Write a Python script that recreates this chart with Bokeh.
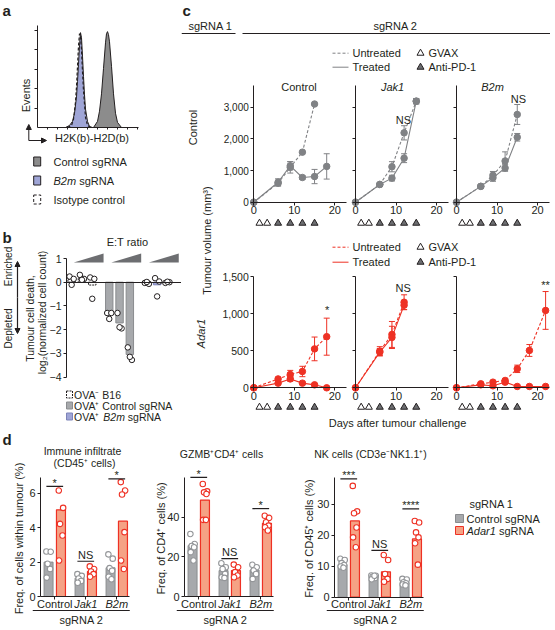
import math
from bokeh.plotting import figure
from bokeh.models import (Range1d, LinearAxis, FixedTicker, Label, Arrow, NormalHead,
                          TeeHead, Whisker, ColumnDataSource)
from bokeh.layouts import row, column
from bokeh.embed import file_html
from bokeh.resources import INLINE

# ======================= DATA =======================
# a: H2K(b)-H2D(b) flow histograms (fluorescence position, normalized events)
hist_ctrl_x = [56, 60, 62, 64, 66, 68, 69, 70, 71, 72, 74, 76, 78, 80, 84]
hist_ctrl_y = [0, 0.06, 0.16, 0.33, 0.58, 0.83, 0.92, 0.94, 0.91, 0.84, 0.60, 0.33, 0.14, 0.05, 0]
hist_b2m_x = [28, 32, 35, 37, 39, 40, 41, 42, 43, 44, 45, 46, 47, 48, 50, 52, 55]
hist_b2m_y = [0, 0.02, 0.06, 0.14, 0.30, 0.45, 0.62, 0.80, 0.93, 0.88, 0.70, 0.50, 0.32, 0.18, 0.06, 0.01, 0]
hist_iso_x = [30, 34, 36, 38, 39, 40, 41, 42, 43, 44, 45, 46, 48, 50, 53]
hist_iso_y = [0, 0.02, 0.08, 0.25, 0.40, 0.60, 0.80, 0.92, 0.90, 0.76, 0.55, 0.36, 0.10, 0.02, 0]
a_legend = ["Control sgRNA", "B2m sgRNA", "Isotype control"]

# b: tumour cell death, log2(normalized cell count), 3 E:T ratios per group
b_groups = ["OVA⁻ B16", "OVA⁺ Control sgRNA", "OVA⁺ B2m sgRNA"]
b_et_ratios = ["low", "mid", "high"]
b_mean_ova_neg = [0.12, 0.18, -0.12]
b_mean_ctrl = [-1.38, -1.72, -3.05]
b_mean_b2m = [-0.03, -0.11, -0.01]
b_pts_ova_neg = [[0.24, 0.14, -0.11], [0.31, 0.14, 0.10], [0.20, 0.14, -0.70]]
b_pts_ctrl = [[-1.30, -1.30, -1.55], [-1.30, -1.95, -1.90], [-2.75, -3.28, -3.15]]
b_pts_b2m = [[-0.03, -0.07, 0.01], [0.17, 0.03, -0.60], [-0.03, 0.00, 0.02]]
b_yticks = [-4, -3, -2, -1, 0, 1]

# c: tumour volume (mm3) vs days after tumour challenge
c_targets = ["Control", "Jak1", "B2m"]
treat_gvax_days = [1.4, 3.3]
treat_pd1_days = [6, 9, 12, 15]
c_xticks = [0, 10, 20]
c_yticks_top = [0, 1000, 2000, 3000]
c_yticks_bottom = [0, 500, 1000, 1500]
# sgRNA 1 = Control
c1_ctrl_untr_days = [0, 6, 9, 12, 15]
c1_ctrl_untr_vol = [0, 600, 1100, 1580, 3100]
c1_ctrl_untr_err = [0, 90, 180, 0, 0]
c1_ctrl_trt_days = [0, 6, 9, 12, 15, 18]
c1_ctrl_trt_vol = [0, 630, 1150, 780, 810, 1130]
c1_ctrl_trt_err = [0, 110, 130, 60, 225, 400]
c1_jak1_days = [0, 6, 9, 12, 15]
c1_jak1_untr_vol = [0, 560, 1120, 2190, 3190]
c1_jak1_untr_err = [0, 30, 160, 225, 85]
c1_jak1_trt_vol = [0, 560, 760, 1390, 3190]
c1_jak1_trt_err = [0, 30, 90, 140, 85]
c1_b2m_days = [0, 6, 9, 12, 15]
c1_b2m_untr_vol = [0, 500, 850, 1300, 2770]
c1_b2m_untr_err = [0, 40, 120, 290, 315]
c1_b2m_trt_vol = [0, 500, 770, 1080, 2050]
c1_b2m_trt_err = [0, 40, 110, 105, 120]
# sgRNA 1 = Adar1
c2_ctrl_days = [0, 6, 9, 12, 15, 18]
c2_ctrl_untr_vol = [0, 120, 180, 220, 525, 690]
c2_ctrl_untr_err = [0, 20, 55, 70, 160, 250]
c2_ctrl_trt_vol = [0, 63, 120, 63, 40, 0]
c2_ctrl_trt_err = [0, 15, 30, 15, 10, 0]
c2_jak1_days = [0, 6, 9, 12]
c2_jak1_untr_vol = [0, 495, 720, 1155]
c2_jak1_untr_err = [0, 60, 175, 100]
c2_jak1_trt_vol = [0, 480, 680, 1115]
c2_jak1_trt_err = [0, 50, 150, 60]
c2_b2m_days = [0, 6, 9, 12, 15, 18, 22]
c2_b2m_untr_vol = [0, 54, 76, 99, 256, 504, 1044]
c2_b2m_untr_err = [0, 10, 15, 20, 50, 80, 255]
c2_b2m_trt_vol = [0, 40, 27, 76, 18, 18, 18]
c2_b2m_trt_err = [0, 8, 8, 15, 5, 5, 5]

# d: tumour infiltrate frequencies
d_targets = ["Control", "Jak1", "B2m"]
d_sgrna1 = ["Control sgRNA", "Adar1 sgRNA"]
immune_ctrl_mean = [2.0, 1.07, 1.67]
immune_adar_mean = [5.04, 1.45, 4.38]
immune_ctrl_pts = [[2.62, 2.6, 1.9, 1.6, 1.1], [1.3, 1.2, 1.05, 0.9, 0.8], [2.45, 2.2, 1.65, 1.5, 1.15, 1.0]]
immune_adar_pts = [[6.16, 5.15, 4.22, 3.55, 2.09], [1.75, 1.6, 1.45, 1.3, 1.15], [6.65, 6.16, 5.93, 3.74, 2.09, 1.6]]
immune_sig = ["*", "NS", "*"]
gzmb_ctrl_mean = [25.7, 13.1, 13.4]
gzmb_adar_mean = [48.7, 13.1, 37.0]
gzmb_ctrl_pts = [[31.6, 26.5, 25.5, 24.9, 22.4, 18.2], [16.8, 14.8, 13.9, 11.4, 9.7, 9.4], [16.0, 14.8, 13.1, 11.4, 8.9]]
gzmb_adar_pts = [[56.8, 53.1, 52.6, 51.8, 38.7, 38.7], [16.1, 14.8, 12.3, 10.6, 9.7], [40.8, 39.7, 37.5, 35.8, 35.0, 33.3]]
gzmb_sig = ["*", "NS", "*"]
nk_ctrl_mean = [10.5, 6.6, 4.8]
nk_adar_mean = [24.6, 8.2, 18.8]
nk_ctrl_pts = [[12.4, 12.0, 11.0, 10.4, 9.9, 9.5], [7.0, 6.9, 6.6, 6.2, 5.8, 6.9], [5.9, 5.7, 4.8, 4.5, 4.1, 3.8]]
nk_adar_pts = [[35.9, 27.7, 27.1, 22.5, 19.3, 16.1], [13.6, 12.0, 7.5, 5.9, 5.0], [24.6, 24.1, 20.9, 19.3, 17.4, 10.5]]
nk_sig = ["***", "NS", "****"]

# ======================= STYLE / HELPERS =======================
S = 1.0
OX = OY = 0
FONT = "Liberation Sans"
INK = "#231f20"
GRAY = "#808285"
RED = "#ee3124"
BAR_GRAY = "#a7a9ac"
BAR_GRAY_LINE = "#8a8c8f"
BAR_RED = "#f5a285"
PURPLE = "#9fa5d6"
HIST_GRAY = "#8c8c8c"

AW = {' ': 278, '(': 333, ')': 333, '+': 584, '-': 333, ',': 278, '.': 278, ':': 278, '%': 889,
      '⁺': 400, '⁻': 400, '₂': 350, '³': 333,
      'A': 667, 'B': 667, 'C': 722, 'D': 722, 'E': 667, 'G': 778, 'H': 722, 'I': 278, 'J': 500,
      'K': 667, 'M': 833, 'N': 722, 'O': 778, 'P': 667, 'R': 722, 'S': 667, 'T': 611, 'V': 667,
      'X': 667, 'Z': 611, 'a': 556, 'b': 556, 'c': 500, 'd': 556, 'e': 556, 'f': 278, 'g': 556,
      'h': 556, 'i': 222, 'j': 222, 'k': 500, 'l': 222, 'm': 833, 'n': 556, 'o': 556, 'p': 556,
      'q': 556, 'r': 333, 's': 500, 't': 278, 'u': 556, 'v': 500, 'w': 722, 'x': 500, 'y': 500, 'z': 500}


def gp(v, o):
    return int(round((v - o) * S))


def fs(px):
    return "%.2fpx" % (px * S)


def tw(s, size):
    return sum(AW.get(ch, 556) for ch in s) / 1000.0 * size


class Panel:
    """A figure whose frame fills its box; geometry given in reference-pixel units."""

    def __init__(self, rx0, ry0, rx1, ry1, ax=None, ay=None, kx=1.0, ky=1.0):
        self.w = gp(rx1, OX) - gp(rx0, OX)
        self.h = gp(ry1, OY) - gp(ry0, OY)
        self.ax = rx0 if ax is None else ax
        self.ay = ry1 if ay is None else ay
        self.kx, self.ky = kx, ky
        rxe = rx0 + self.w / S
        rye = ry0 + self.h / S
        p = figure(width=self.w, height=self.h,
                   x_range=Range1d(self.X(rx0), self.X(rxe)),
                   y_range=Range1d(self.Y(rye), self.Y(ry0)),
                   toolbar_location=None, output_backend="svg",
                   x_axis_location=None, y_axis_location=None,
                   min_border=0, min_border_left=0, min_border_right=0,
                   min_border_top=0, min_border_bottom=0,
                   outline_line_color=None, background_fill_color="white",
                   border_fill_color="white")
        p.grid.visible = False
        self.p = p

    def X(self, rx):
        return (rx - self.ax) / self.kx

    def Y(self, ry):
        return (self.ay - ry) / self.ky


def label(P, rx, ry, s, size=11, align="center", base="middle", angle=0.0, style="normal", color=INK):
    P.p.add_layout(Label(x=P.X(rx), y=P.Y(ry), text=s, text_font=FONT, text_font_size=fs(size),
                         text_align=align, text_baseline=base, angle=angle,
                         text_font_style=style, text_color=color))


def dlabel(P, x, y, s, size=11, align="center", base="middle", style="normal", color=INK):
    P.p.add_layout(Label(x=x, y=y, text=s, text_font=FONT, text_font_size=fs(size),
                         text_align=align, text_baseline=base,
                         text_font_style=style, text_color=color))


def rich(P, rx, ry, segs, size=11):
    x = rx
    for s, st in segs:
        lead = len(s) - len(s.lstrip(" "))
        body = s.strip(" ")
        if body:
            label(P, x + tw(" " * lead, size), ry, body, size, align="left", style=st)
        x += tw(s, size)


def hline(P, rx0, rx1, ry, color=INK, width=1.0, dash="solid"):
    P.p.line([P.X(rx0), P.X(rx1)], [P.Y(ry), P.Y(ry)], line_color=color, line_width=width, line_dash=dash)


def add_axis(P, side, loc, ticks, labels=None, bounds=None, size=11, tick=3, standoff=2, color=INK):
    ticks = list(ticks)
    a = LinearAxis(fixed_location=loc, ticker=FixedTicker(ticks=ticks, minor_ticks=[]),
                   axis_line_color=color, axis_line_width=1,
                   major_tick_line_color=color, major_tick_out=tick, major_tick_in=0,
                   minor_tick_out=0, minor_tick_in=0,
                   major_label_standoff=standoff, major_label_text_font=FONT,
                   major_label_text_font_size=fs(size), major_label_text_color=INK)
    if bounds is not None:
        a.bounds = bounds
    if labels is None:
        labels = [""] * len(ticks)
    a.major_label_overrides = {t: l for t, l in zip(ticks, labels)}
    P.p.add_layout(a, side)
    return a


def panel_letter(P, rx, ry, s):
    label(P, rx, ry, s, size=15, align="left", base="top", style="bold")


# ======================= PANEL a =======================
A = Panel(0, 0, 181, 227, ax=37, ay=127, kx=1.0, ky=102.0)
pa = A.p
pa.patch(hist_ctrl_x, hist_ctrl_y, fill_color=HIST_GRAY, line_color=INK, line_width=1)
pa.patch(hist_b2m_x, hist_b2m_y, fill_color=PURPLE, line_color=INK, line_width=1)
pa.line(hist_iso_x, hist_iso_y, line_color=INK, line_width=1.2, line_dash="3 2")
add_axis(A, "left", 0, [0.19, 0.38, 0.57, 0.76, 0.95], bounds=(0, 1.0), tick=3)
add_axis(A, "below", 0, list(range(10, 101, 10)), bounds=(0, 101), tick=2)
panel_letter(A, 2, 1, "a")
label(A, 25, 95, "Events", size=11, angle=math.pi / 2)
pa.add_layout(Arrow(x_start=A.X(28.3), y_start=A.Y(140), x_end=A.X(28.3), y_end=A.Y(124),
                    end=NormalHead(size=5, fill_color=INK, line_color=INK), line_color=INK, line_width=1))
pa.add_layout(Arrow(x_start=A.X(28.3), y_start=A.Y(140), x_end=A.X(46), y_end=A.Y(140),
                    end=NormalHead(size=5, fill_color=INK, line_color=INK), line_color=INK, line_width=1))
label(A, 91.5, 137, "H2K(b)-H2D(b)", size=11)
leg_y = [161, 180, 199]
leg_fill = [HIST_GRAY, PURPLE, "white"]
leg_dash = ["solid", "solid", "3 2"]
for yy, fc, dsh in zip(leg_y, leg_fill, leg_dash):
    pa.rect(x=[A.X(36.7)], y=[A.Y(yy)], width=7 * S, height=9 * S, width_units="screen",
            height_units="screen", fill_color=fc, line_color=INK, line_width=1, line_dash=dsh)
label(A, 53, leg_y[0], a_legend[0], align="left")
rich(A, 53, leg_y[1], [("B2m", "italic"), (" sgRNA", "normal")])
label(A, 53, leg_y[2], a_legend[2], align="left")

# ======================= PANEL b =======================
B_STEP = 3.65
B = Panel(0, 227, 181, 429, ax=66, ay=281.7, kx=10.3, ky=23.7)
pb = B.p
b_means = [b_mean_ova_neg, b_mean_ctrl, b_mean_b2m]
b_pts = [b_pts_ova_neg, b_pts_ctrl, b_pts_b2m]
b_fill = [None, BAR_GRAY, PURPLE]
b_line = [INK, BAR_GRAY_LINE, "#7d83b8"]
b_dash = ["2 1", "solid", "solid"]
for gi in range(len(b_groups)):
    xs = [gi * B_STEP + ri + 0.5 for ri in range(len(b_et_ratios))]
    pb.vbar(x=xs, top=b_means[gi], bottom=0, width=0.72, fill_color=b_fill[gi],
            line_color=b_line[gi], line_width=1, line_dash=b_dash[gi])
    wx0 = gi * B_STEP + 0.7
    wx1 = gi * B_STEP + 3.6
    pb.patch([wx0, wx1, wx1], [B.Y(262), B.Y(262), B.Y(253)], fill_color="#6d6e71", line_color=None)
jit_b = [-0.2, 0.2, 0.0]
for gi in range(len(b_groups)):
    px, py = [], []
    for ri in range(len(b_et_ratios)):
        for k, v in enumerate(b_pts[gi][ri]):
            px.append(gi * B_STEP + ri + 0.5 + jit_b[k % 3])
            py.append(v)
    pb.scatter(px, py, marker="circle", size=5.5 * S, fill_color="white", line_color=INK, line_width=1)
add_axis(B, "below", 0, [], bounds=(0, B.X(181)), tick=0)
add_axis(B, "left", 0, b_yticks, labels=[str(t).replace("-", "−") for t in b_yticks],
         bounds=(-4, 1), size=10.5, tick=3, standoff=2)
panel_letter(B, 2, 228, "b")
label(B, 127, 241, "E:T ratio", size=11)
label(B, 8, 266, "Enriched", size=10, angle=math.pi / 2)
label(B, 8, 328, "Depleted", size=10, angle=math.pi / 2)
pb.add_layout(Arrow(x_start=B.X(17), y_start=B.Y(297), x_end=B.X(17), y_end=B.Y(261),
                    end=NormalHead(size=5, fill_color=INK, line_color=INK), line_color=INK, line_width=1.2))
pb.add_layout(Arrow(x_start=B.X(17), y_start=B.Y(297), x_end=B.X(17), y_end=B.Y(333),
                    end=NormalHead(size=5, fill_color=INK, line_color=INK), line_color=INK, line_width=1.2))
label(B, 29, 318, "Tumour cell death,", size=10.5, angle=math.pi / 2)
label(B, 41, 312, "log₂(normalized cell count)", size=10.5, angle=math.pi / 2)
bl_y = [394, 405, 416]
for yy, fc, lc, dsh in zip(bl_y, ["white", BAR_GRAY, PURPLE], [INK, BAR_GRAY_LINE, "#7d83b8"], ["2 1", "solid", "solid"]):
    pb.rect(x=[B.X(69)], y=[B.Y(yy)], width=6 * S, height=7 * S, width_units="screen",
            height_units="screen", fill_color=fc, line_color=lc, line_width=1, line_dash=dsh)
label(B, 73.5, bl_y[0], b_groups[0], size=10.5, align="left")
label(B, 73.5, bl_y[1], b_groups[1], size=10.5, align="left")
rich(B, 73.5, bl_y[2], [("OVA⁺ ", "normal"), ("B2m", "italic"), (" sgRNA", "normal")], size=10.5)

# ======================= PANEL c =======================
C_KX = 4.05


def growth_panel(rx0, rx1, ry0, ry1, x0ref, y0ref, ky, color, series, yticks, ymax, show_ylab, ylab_size, tri_ry):
    P = Panel(rx0, ry0, rx1, ry1, ax=x0ref, ay=y0ref, kx=C_KX, ky=ky)
    p = P.p
    add_axis(P, "below", 0, c_xticks, labels=[str(t) for t in c_xticks], bounds=(0, 23),
             size=11, tick=3, standoff=1)
    add_axis(P, "left", 0, yticks, labels=[f"{t:,}" for t in yticks] if show_ylab else None,
             bounds=(0, ymax), size=ylab_size, tick=3, standoff=2)
    for days, vals, errs, dash in series:
        p.line(days, vals, line_color=color, line_width=1.1, line_dash=dash)
    for days, vals, errs, dash in series:
        keep = [i for i, e in enumerate(errs) if e > 0]
        if keep:
            src = ColumnDataSource(dict(x=[days[i] for i in keep],
                                        lo=[vals[i] - errs[i] for i in keep],
                                        hi=[vals[i] + errs[i] for i in keep]))
            p.add_layout(Whisker(source=src, base="x", lower="lo", upper="hi", dimension="height",
                                 line_color=color, line_width=1,
                                 upper_head=TeeHead(size=6 * S, line_color=color, line_width=1),
                                 lower_head=TeeHead(size=6 * S, line_color=color, line_width=1)))
    for days, vals, errs, dash in series:
        p.scatter(days, vals, marker="circle", size=6.5 * S, fill_color=color, line_color=color)
    ty = P.Y(tri_ry)
    p.scatter(treat_gvax_days, [ty] * len(treat_gvax_days), marker="triangle", size=7 * S,
              fill_color="white", line_color=INK, line_width=1)
    p.scatter(treat_pd1_days, [ty] * len(treat_pd1_days), marker="triangle", size=7 * S,
              fill_color="#6d6e71", line_color=INK, line_width=1)
    return P


TOP = (75, 229, 201.7, 0.03167)
BOT = (268, 413, 387.3, 0.0741)
cols = [(220, 349, 253.3), (349, 450, 355.0), (450, 550, 456.0)]

top_series = [
    [(c1_ctrl_untr_days, c1_ctrl_untr_vol, c1_ctrl_untr_err, "3 2"),
     (c1_ctrl_trt_days, c1_ctrl_trt_vol, c1_ctrl_trt_err, "solid")],
    [(c1_jak1_days, c1_jak1_untr_vol, c1_jak1_untr_err, "3 2"),
     (c1_jak1_days, c1_jak1_trt_vol, c1_jak1_trt_err, "solid")],
    [(c1_b2m_days, c1_b2m_untr_vol, c1_b2m_untr_err, "3 2"),
     (c1_b2m_days, c1_b2m_trt_vol, c1_b2m_trt_err, "solid")],
]
bot_series = [
    [(c2_ctrl_days, c2_ctrl_untr_vol, c2_ctrl_untr_err, "3 2"),
     (c2_ctrl_days, c2_ctrl_trt_vol, c2_ctrl_trt_err, "solid")],
    [(c2_jak1_days, c2_jak1_untr_vol, c2_jak1_untr_err, "3 2"),
     (c2_jak1_days, c2_jak1_trt_vol, c2_jak1_trt_err, "solid")],
    [(c2_b2m_days, c2_b2m_untr_vol, c2_b2m_untr_err, "3 2"),
     (c2_b2m_days, c2_b2m_trt_vol, c2_b2m_trt_err, "solid")],
]

top_panels, bot_panels = [], []
for i, (rx0, rx1, x0) in enumerate(cols):
    top_panels.append(growth_panel(rx0, rx1, TOP[0], TOP[1], x0, TOP[2], TOP[3], GRAY, top_series[i],
                                   c_yticks_top, 3700, i == 0, 10, 222.7))
    bot_panels.append(growth_panel(rx0, rx1, BOT[0], BOT[1], x0, BOT[2], BOT[3], RED, bot_series[i],
                                   c_yticks_bottom, 1500, i == 0, 10.5, 406.7))

title_x = [298.5, 392, 492]
for i, P in enumerate(top_panels):
    label(P, title_x[i], 86, c_targets[i], size=11, style="normal" if i == 0 else "italic")
label(top_panels[1], 403, 119, "NS", size=11)
label(top_panels[2], 518, 98, "NS", size=11)
label(bot_panels[0], 326.7, 309.5, "*", size=11)
label(bot_panels[1], 402.7, 287.3, "NS", size=11)
label(bot_panels[2], 545, 284.5, "**", size=11)

# header (sgRNA labels + gray legend)
H = Panel(181, 0, 550, 75)
panel_letter(H, 182, 1, "c")
label(H, 210, 25, "sgRNA 1", size=11)
label(H, 395, 25, "sgRNA 2", size=11)
hline(H, 181, 235, 33)
hline(H, 242, 550, 33)


def legend_block(P, y1, y2, color):
    hline(P, 332, 348, y1, color=color, dash="3 2")
    hline(P, 332, 348, y2, color=color)
    label(P, 352, y1, "Untreated", size=11, align="left")
    label(P, 352, y2, "Treated", size=11, align="left")
    P.p.scatter([P.X(420)], [P.Y(y1)], marker="triangle", size=7 * S, fill_color="white",
                line_color=INK, line_width=1)
    P.p.scatter([P.X(420)], [P.Y(y2)], marker="triangle", size=7 * S, fill_color="#6d6e71",
                line_color=INK, line_width=1)
    label(P, 428, y1, "GVAX", size=11, align="left")
    label(P, 428, y2, "Anti-PD-1", size=11, align="left")


legend_block(H, 52.7, 66.7, GRAY)

L2 = Panel(220, 229, 550, 268)
legend_block(L2, 246.7, 261.7, RED)

ST = Panel(181, 75, 220, 413)
label(ST, 192, 127, "Control", size=11, angle=math.pi / 2)
label(ST, 206, 240, "Tumour volume (mm³)", size=11, angle=math.pi / 2)
label(ST, 200, 333, "Adar1", size=11, angle=math.pi / 2, style="italic")

F = Panel(181, 413, 550, 429)
label(F, 397, 422, "Days after tumour challenge", size=11)

# ======================= PANEL d =======================
D_KX = 31.0
D_OFF = 0.46
D_DODGE = 0.2
D_W = 0.29
JIT = [-0.07, 0.07, -0.03, 0.05, -0.06, 0.03]


def bar_panel(rx0, rx1, axref, ayref, ky, cm, am, cp, ap, yticks, ymax, sig, sig_y, ylabel, ylab_rx, titles):
    P = Panel(rx0, 429, rx1, 628, ax=axref, ay=ayref, kx=D_KX, ky=ky)
    p = P.p
    xc = [i + D_OFF for i in range(len(d_targets))]
    p.vbar(x=[x - D_DODGE for x in xc], top=cm, bottom=0, width=D_W, fill_color=BAR_GRAY,
           line_color=BAR_GRAY_LINE, line_width=1)
    p.vbar(x=[x + D_DODGE for x in xc], top=am, bottom=0, width=D_W, fill_color=BAR_RED,
           line_color=RED, line_width=1.2)
    for pts_set, sgn, col in ((cp, -1, "#939598"), (ap, 1, RED)):
        px, py = [], []
        for i, pts in enumerate(pts_set):
            for k, v in enumerate(pts):
                px.append(xc[i] + sgn * D_DODGE + JIT[k % len(JIT)])
                py.append(v)
        p.scatter(px, py, marker="circle", size=5.5 * S, fill_color="white", line_color=col, line_width=1.1)
    add_axis(P, "left", 0, yticks, labels=[str(t) for t in yticks], bounds=(0, ymax), size=11, tick=3, standoff=2)
    add_axis(P, "below", 0, xc, bounds=(0, 2.88), tick=3)
    for i, (s, yv) in enumerate(zip(sig, sig_y)):
        p.line([xc[i] - 0.27, xc[i] + 0.27], [yv, yv], line_color=INK, line_width=1.2)
        if s == "NS":
            dlabel(P, xc[i], yv + 0.5 / ky, s, size=11, base="bottom")
        else:
            dlabel(P, xc[i], yv - 2.5 / ky, s, size=11, base="bottom")
    for i, t in enumerate(d_targets):
        dlabel(P, xc[i], P.Y(603.5), t, size=11, style="normal" if i == 0 else "italic")
    p.line([-0.25, 2.88], [P.Y(610), P.Y(610)], line_color=INK, line_width=1)
    dlabel(P, 1.32, P.Y(619.5), "sgRNA 2", size=11)
    label(P, ylab_rx, 538, ylabel, size=11, angle=math.pi / 2)
    for (tx, ty, tt) in titles:
        label(P, tx, ty, tt, size=10.5)
    return P


D1 = bar_panel(0, 146, 40, 596, 17.2, immune_ctrl_mean, immune_adar_mean, immune_ctrl_pts, immune_adar_pts,
               [0, 2, 4, 6], 6.9, immune_sig, [6.4, 2.05, 6.84], "Freq. of cells within tumour (%)", 18,
               [(82, 450, "Immune infiltrate"), (84, 462, "(CD45⁺ cells)")])
panel_letter(D1, 2, 430, "d")
D2 = bar_panel(146, 291, 184, 596, 1.98, gzmb_ctrl_mean, gzmb_adar_mean, gzmb_ctrl_pts, gzmb_adar_pts,
               [0, 20, 40], 60, gzmb_sig, [60.2, 19.1, 44.4], "Freq. of CD4⁺ cells (%)", 160,
               [(221, 453, "GZMB⁺CD4⁺ cells")])
D3 = bar_panel(291, 436, 334, 596.7, 3.1, nk_ctrl_mean, nk_adar_mean, nk_ctrl_pts, nk_adar_pts,
               [0, 10, 20, 30], 38.6, nk_sig, [38.2, 15.1, 28.5], "Freq. of CD45⁺ cells (%)", 308,
               [(370, 453, "NK cells (CD3e⁻NK1.1⁺)")])

DL = Panel(436, 429, 550, 628)
label(DL, 491, 503, "sgRNA 1", size=11)
for yy, fc, lc in ((518, BAR_GRAY, BAR_GRAY_LINE), (530, BAR_RED, RED)):
    DL.p.rect(x=[DL.X(459)], y=[DL.Y(yy)], width=8 * S, height=8 * S, width_units="screen",
              height_units="screen", fill_color=fc, line_color=lc, line_width=1)
label(DL, 466, 518, d_sgrna1[0], size=11, align="left")
rich(DL, 466, 530, [("Adar1", "italic"), (" sgRNA", "normal")], size=11)

# ======================= LAYOUT =======================
left_col = column(A.p, B.p)
c_plots = column(row(*[P.p for P in top_panels]), L2.p, row(*[P.p for P in bot_panels]))
c_block = column(H.p, row(ST.p, c_plots), F.p)
top_block = row(left_col, c_block)
bottom_block = row(D1.p, D2.p, D3.p, DL.p)
layout = column(top_block, bottom_block)

open("out.html", "w").write(file_html(layout, INLINE, "Figure"))
